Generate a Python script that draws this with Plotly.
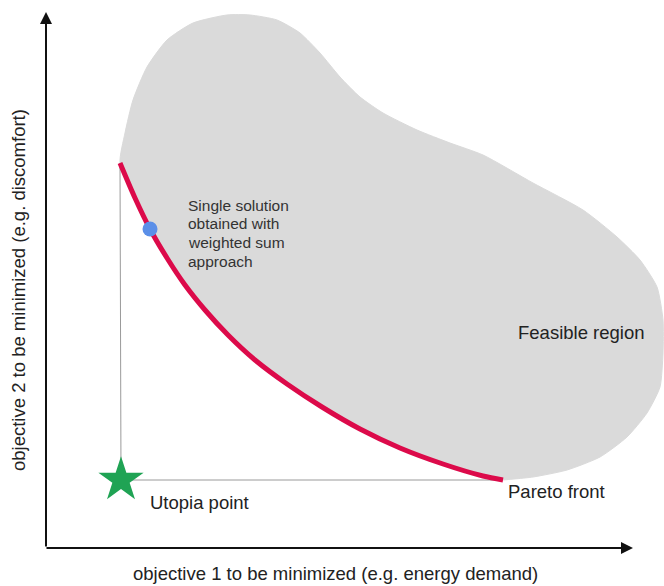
import plotly.graph_objects as go

# ---- data (diagram units, y grows downward) ----
pareto_x = [120, 135, 150, 167, 185, 205, 228, 255, 287, 322, 360, 400, 443, 483, 503]
pareto_y = [163, 198, 229, 258, 285, 310, 335, 360, 384, 407, 429, 448, 464, 476, 480]

region_top_x = [120, 125, 133, 147, 167, 193, 227, 250, 277, 300, 320, 340, 360, 383, 417, 450, 483, 533, 583, 617, 640, 657, 663, 663, 660, 647, 627, 600, 567, 533, 503]
region_top_y = [163, 133, 100, 67, 40, 23, 15, 15, 20, 33, 53, 77, 97, 113, 130, 143, 155, 183, 210, 237, 260, 287, 320, 353, 387, 413, 437, 457, 470, 477, 480]

utopia_point = (121, 480)
weighted_sum_point = (150, 229)

x_axis_label = "objective 1 to be minimized (e.g. energy demand)"
y_axis_label = "objective 2 to be minimized (e.g. discomfort)"
solution_lines = ["Single solution", "obtained with", "weighted sum", "approach"]
region_label = "Feasible region"
front_label = "Pareto front"
utopia_label = "Utopia point"

FONT = "Liberation Sans, Arial, sans-serif"

fig = go.Figure()

# feasible region: top outline + Pareto front back to start
blob_x = region_top_x + pareto_x[::-1]
blob_y = region_top_y + pareto_y[::-1]
fig.add_trace(go.Scatter(x=blob_x, y=blob_y, mode="lines", fill="toself",
                         fillcolor="#dadada", line=dict(color="#dadada", width=1, shape="spline", smoothing=0.6),
                         hoverinfo="skip", showlegend=False))

# thin guide lines from utopia point
fig.add_trace(go.Scatter(x=[pareto_x[0], utopia_point[0], pareto_x[-1]],
                         y=[pareto_y[0], utopia_point[1], pareto_y[-1]],
                         mode="lines", line=dict(color="#9a9a9a", width=1),
                         hoverinfo="skip", showlegend=False))

# Pareto front
fig.add_trace(go.Scatter(x=pareto_x, y=pareto_y, mode="lines",
                         line=dict(color="#dc0a4a", width=5, shape="spline", smoothing=0.8),
                         hoverinfo="skip", showlegend=False))

# weighted sum solution
fig.add_trace(go.Scatter(x=[weighted_sum_point[0]], y=[weighted_sum_point[1]], mode="markers",
                         marker=dict(color="#5b8fe8", size=15, line=dict(width=0)),
                         hoverinfo="skip", showlegend=False))

# utopia point
fig.add_trace(go.Scatter(x=[utopia_point[0]], y=[utopia_point[1]], mode="markers",
                         marker=dict(color="#1fa354", size=34, symbol="star", line=dict(width=0)),
                         hoverinfo="skip", showlegend=False))

# axes arrows
fig.add_annotation(x=46, y=12, ax=46, ay=548, xref="x", yref="y", axref="x", ayref="y",
                   showarrow=True, arrowhead=2, arrowsize=1.2, arrowwidth=2, arrowcolor="#111", text="")
fig.add_annotation(x=633, y=548, ax=45, ay=548, xref="x", yref="y", axref="x", ayref="y",
                   showarrow=True, arrowhead=2, arrowsize=1.2, arrowwidth=2, arrowcolor="#111", text="")

# texts
fig.add_annotation(x=335, y=573, text=x_axis_label, showarrow=False, xref="x", yref="y",
                   font=dict(family=FONT, size=18.5, color="#222"))
fig.add_annotation(x=18, y=290, text=y_axis_label, showarrow=False, xref="x", yref="y", textangle=-90,
                   font=dict(family=FONT, size=18.5, color="#222"))
for i, line in enumerate(solution_lines):
    fig.add_annotation(x=186, y=205 + i * 18.7, text=line, showarrow=False, xref="x", yref="y",
                       xanchor="left", yanchor="middle",
                       font=dict(family=FONT, size=15.5, color="#333"))
fig.add_annotation(x=516, y=332, text=region_label, showarrow=False, xref="x", yref="y",
                   xanchor="left", font=dict(family=FONT, size=18.5, color="#222"))
fig.add_annotation(x=506, y=491, text=front_label, showarrow=False, xref="x", yref="y",
                   xanchor="left", font=dict(family=FONT, size=18.5, color="#222"))
fig.add_annotation(x=148, y=502, text=utopia_label, showarrow=False, xref="x", yref="y",
                   xanchor="left", font=dict(family=FONT, size=18.5, color="#222"))

fig.update_xaxes(range=[0, 664], visible=False, fixedrange=True)
fig.update_yaxes(range=[586, 0], visible=False, fixedrange=True)
fig.update_layout(width=664, height=586, margin=dict(l=0, r=0, t=0, b=0),
                  paper_bgcolor="white", plot_bgcolor="white", hovermode=False)

fig.write_html("out.html", config={"displayModeBar": False},
               post_script="document.body.style.margin='0px';")
